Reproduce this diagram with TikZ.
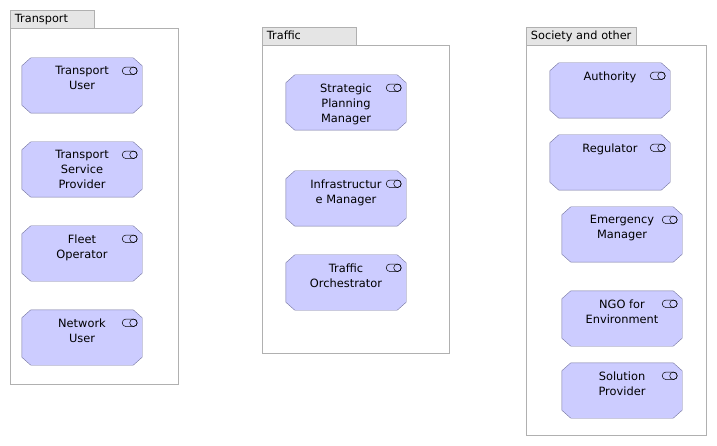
\documentclass[tikz,border=0pt]{standalone}
\usepackage{fontspec}
\setmainfont{DejaVu Sans}
\usetikzlibrary{shapes.misc}
\definecolor{myrolecolor}{HTML}{ccccff}
\definecolor{myroleline}{HTML}{7878a0}
\definecolor{mytabcolor}{HTML}{e5e5e5}
\definecolor{mygroupline}{HTML}{b0b0b0}
\tikzset{
  groupbody/.style={draw=mygroupline, fill=white, rectangle, anchor=north west, inner sep=0pt},
  grouptab/.style={groupbody, fill=mytabcolor, minimum height=18pt, text height=8pt, text depth=2pt, align=left, inner xsep=4.75pt, font=\fontsize{11.3pt}{12pt}\selectfont},
  rolebox/.style={rectangle, minimum width=120pt, minimum height=55pt, inner sep=0pt},
  roleline/.style={draw=myroleline, fill=myrolecolor},
  roletext/.style={anchor=north, align=center, inner sep=0pt, font=\fontsize{11.4pt}{15pt}\selectfont},
  rolepill/.style={draw=black, rounded rectangle, minimum width=15pt, minimum height=7.5pt, inner sep=0pt, line width=0.5pt},
  roledot/.style={draw=black, circle, minimum size=7.5pt, inner sep=0pt, line width=0.5pt},
}
% box with its text and its two-ring icon
\newcommand{\role}[4]{%
  \node[rolebox] (#1) at (#2,#3) {};%
  \draw[roleline] ([xshift=9pt]#1.north west) -- ([xshift=-9pt]#1.north east) -- ([yshift=-8pt]#1.north east) -- ([yshift=8pt]#1.south east) -- ([xshift=-9pt]#1.south east) -- ([xshift=9pt]#1.south west) -- ([yshift=8pt]#1.south west) -- ([yshift=-8pt]#1.north west) -- cycle;%
  \node[roletext] (#1text) at ([yshift=-8.5pt]#1.north) {#4};%
  \node[rolepill] (#1pill) at ([xshift=-12.5pt,yshift=-13pt]#1.north east) {};%
  \node[roledot] (#1dot) at ([xshift=3.75pt]#1pill.center) {};%
}
\begin{document}
\begin{tikzpicture}[x=1pt,y=-1pt]
\useasboundingbox (0,0) rectangle (717,446);
% transport group
\node[groupbody, minimum width=168pt, minimum height=356pt] (transportbody) at (10,28) {};
\node[grouptab, text width=74.5pt, minimum width=84pt] (transporttab) at (10,10) {Transport};
\role{transportuser}{82}{85.5}{Transport\\User}
\role{serviceprovider}{82}{169.5}{Transport\\Service\\Provider}
\role{fleetoperator}{82}{253.5}{Fleet\\Operator}
\role{networkuser}{82}{337.5}{Network\\User}
% traffic group
\node[groupbody, minimum width=187pt, minimum height=308pt] (trafficbody) at (262,45) {};
\node[grouptab, text width=84.5pt, minimum width=94pt] (traffictab) at (262,27) {Traffic};
\role{planningmanager}{346}{102.5}{Strategic\\Planning\\Manager}
\role{inframanager}{346}{198.5}{Infrastructur\\e Manager}
\role{orchestrator}{346}{282.5}{Traffic\\Orchestrator}
% society group
\node[groupbody, minimum width=180pt, minimum height=390pt] (societybody) at (526,45) {};
\node[grouptab, text width=100.5pt, minimum width=110pt] (societytab) at (526,27) {Society and other};
\role{authority}{610}{90.5}{Authority}
\role{regulator}{610}{162.5}{Regulator}
\role{emergency}{622}{234.5}{Emergency\\Manager}
\role{ngo}{622}{318.5}{NGO for\\Environment}
\role{solution}{622}{390.5}{Solution\\Provider}
\end{tikzpicture}
\end{document}
